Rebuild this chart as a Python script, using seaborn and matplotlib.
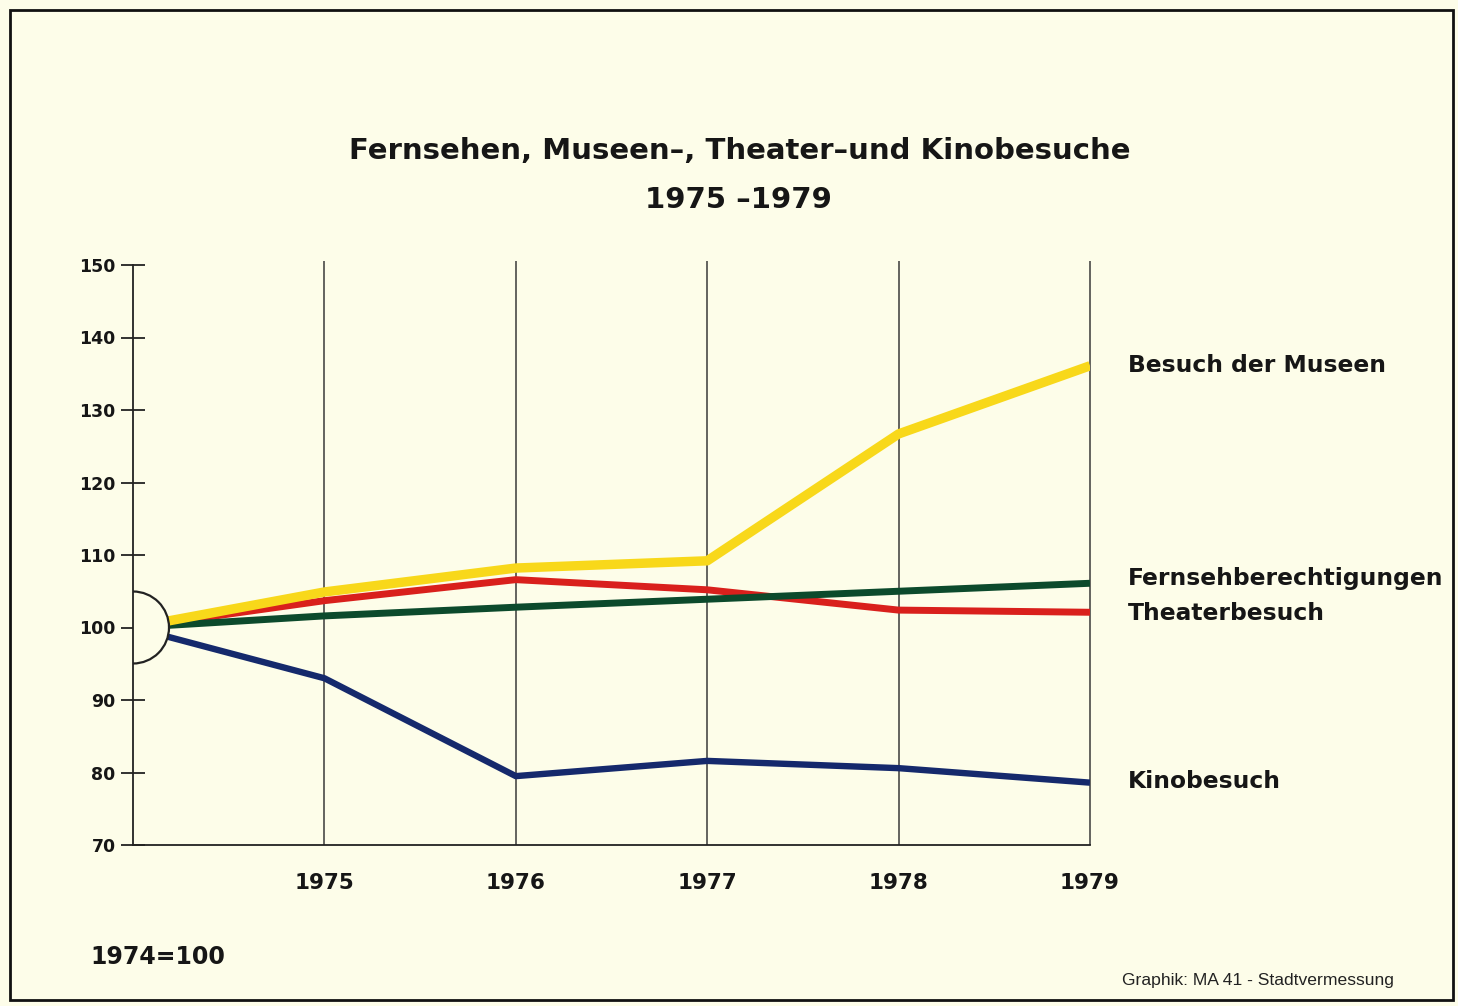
import matplotlib
matplotlib.use("Agg")
import matplotlib.pyplot as plt
import matplotlib.patches as mpatches
import seaborn as sns
import pandas as pd

# ---- data ----
years = [1974, 1975, 1976, 1977, 1978, 1979]
museen = [100, 104.9, 108.2, 109.2, 126.7, 136.1]
theater = [100, 103.7, 106.6, 105.2, 102.4, 102.1]
fernseh = [100, 101.6, 102.8, 103.9, 105.0, 106.1]
kino = [100, 93.0, 79.5, 81.6, 80.6, 78.6]

series_names = ["Besuch der Museen", "Theaterbesuch", "Fernsehberechtigungen", "Kinobesuch"]
series_values = [museen, theater, fernseh, kino]
yticks = [70, 80, 90, 100, 110, 120, 130, 140, 150]
xticks = [1975, 1976, 1977, 1978, 1979]

title_line1 = "Fernsehen, Museen–, Theater–und Kinobesuche"
title_line2 = "1975 –1979"
base_note = "1974=100"
credit = "Graphik: MA 41 - Stadtvermessung"

# ---- style ----
BG = "#fdfde9"
TXT = "#161616"
colors = {"Besuch der Museen": "#f8d81a",
          "Theaterbesuch": "#d9201c",
          "Fernsehberechtigungen": "#0c4a2c",
          "Kinobesuch": "#15296c"}
widths = {"Besuch der Museen": 6.8,
          "Theaterbesuch": 5.0,
          "Fernsehberechtigungen": 5.0,
          "Kinobesuch": 4.6}
zorders = {"Besuch der Museen": 4, "Theaterbesuch": 2,
           "Fernsehberechtigungen": 3, "Kinobesuch": 3}

sns.set_theme(style="white")
plt.rcParams['font.family'] = ['DejaVu Sans']

fig = plt.figure(figsize=(14.58, 10.06), dpi=100, facecolor=BG)
ax = fig.add_axes([133/1458, 161/1006, (1090-133)/1458, (845-265)/1006])
ax.set_facecolor(BG)

rows = []
for name, vals in zip(series_names, series_values):
    for yr, v in zip(years, vals):
        rows.append({"Jahr": yr, "Wert": v, "Reihe": name})
df = pd.DataFrame(rows)

for name in ["Theaterbesuch", "Fernsehberechtigungen", "Kinobesuch", "Besuch der Museen"]:
    sub = df[df["Reihe"] == name]
    sns.lineplot(data=sub, x="Jahr", y="Wert", ax=ax, color=colors[name],
                 linewidth=widths[name], zorder=zorders[name],
                 solid_capstyle="butt", solid_joinstyle="round", legend=False)

ax.set_xlim(1974, 1979)
ax.set_ylim(70, 150)

# vertical grid lines
ax.vlines(xticks, 70, 150.6, colors="#3a3a3a", linewidth=1.1, zorder=1, clip_on=False)

# semicircle at origin (covers line starts)
rx = 36 / ((1090 - 133) / 5)
ry = 36 / ((845 - 265) / 80)
ell = mpatches.Ellipse((1974, 100), 2*rx, 2*ry, facecolor=BG, edgecolor="none", zorder=6)
ax.add_patch(ell)
arc = mpatches.Arc((1974, 100), 2*rx, 2*ry, theta1=-90, theta2=90,
                   edgecolor="#222222", linewidth=1.6, zorder=7)
ax.add_patch(arc)

# spines
for s in ["top", "right"]:
    ax.spines[s].set_visible(False)
for s in ["left", "bottom"]:
    ax.spines[s].set_color("#222222")
    ax.spines[s].set_linewidth(1.3)
    ax.spines[s].set_zorder(8)

ax.set_yticks(yticks)
ax.set_yticklabels([str(t) for t in yticks], fontsize=12.5, fontweight="bold", color=TXT)
ax.tick_params(axis="y", direction="inout", length=17, width=1.3, color="#222222", pad=4, left=True)
ax.set_xticks(xticks)
ax.set_xticklabels([str(t) for t in xticks], fontsize=15.5, fontweight="bold", color=TXT)
ax.tick_params(axis="x", length=0, pad=20)
ax.set_xlabel("")
ax.set_ylabel("")

# right-side labels
label_pos = {"Besuch der Museen": 136.2,
             "Fernsehberechtigungen": 106.7,
             "Theaterbesuch": 101.9,
             "Kinobesuch": 78.7}
for name, yv in label_pos.items():
    ax.text(1979.2, yv, name, fontsize=16.8, fontweight="bold", color=TXT,
            va="center", ha="left", clip_on=False)

# titles
fig.text(740/1458, 1 - 151/1006, title_line1, fontsize=21, fontweight="bold",
         ha="center", va="center", color=TXT)
fig.text(738/1458, 1 - 200/1006, title_line2, fontsize=21, fontweight="bold",
         ha="center", va="center", color=TXT)

fig.text(90/1458, 1 - 957/1006, base_note, fontsize=17, fontweight="bold",
         ha="left", va="center", color=TXT)
fig.text(1122/1458, 1 - 980/1006, credit, fontsize=12.6,
         ha="left", va="center", color="#222222",
         family=["Liberation Sans"])

# frame
frame = mpatches.Rectangle((10/1458, 6/1006), 1443/1458, 990/1006, transform=fig.transFigure,
                           fill=False, edgecolor="#111111", linewidth=2.0)
fig.patches.append(frame)

fig.savefig("out.png", dpi=100, facecolor=BG)
